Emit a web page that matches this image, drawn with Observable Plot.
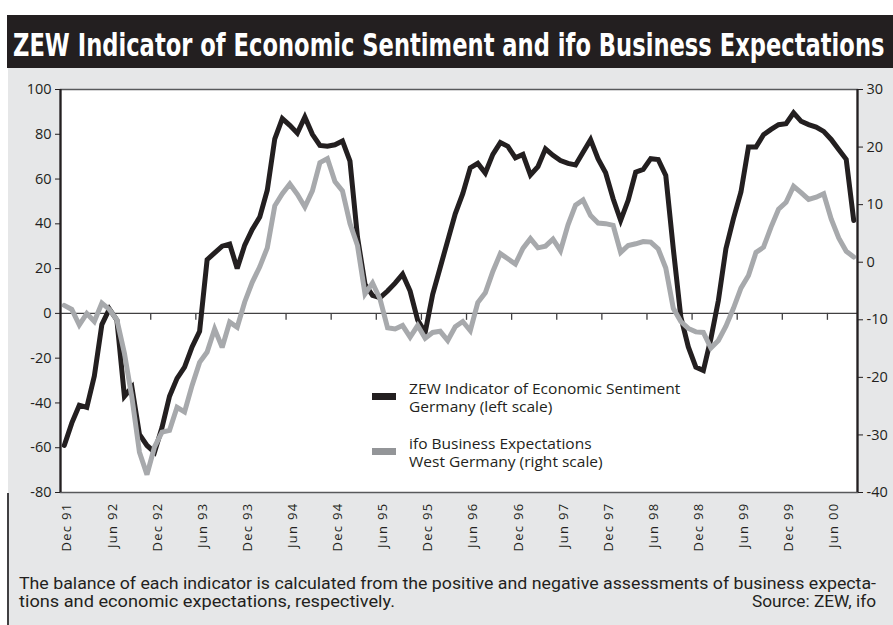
<!DOCTYPE html>
<html>
<head>
<meta charset="utf-8">
<script src="https://cdn.jsdelivr.net/npm/d3@7"></script>
<script src="https://cdn.jsdelivr.net/npm/@observablehq/plot@0.6"></script>
<style>
  body { margin: 0; background: #fff; }
  #wrap { position: relative; width: 893px; height: 625px; overflow: hidden; font-family: "Open Sans", sans-serif; }
  #titlebar { position: absolute; left: 7px; top: 15px; width: 886px; height: 53px; background: #231f20; }
  #panel { position: absolute; left: 8px; top: 68px; width: 885px; height: 557px; background: #e6e7e8; }
  #lborder { position: absolute; left: 7px; top: 493px; width: 1.5px; height: 132px; background: #414042; }
  #chart { position: absolute; left: 0; top: 68px; }
  #overlay { position: absolute; left: 0; top: 0; pointer-events: none; }
</style>
</head>
<body>
<div id="wrap">
  <div id="titlebar"></div>
  <div id="panel"></div>
  <div id="lborder"></div>
  <div id="chart"></div>
  <svg id="overlay" width="893" height="625" xmlns="http://www.w3.org/2000/svg">
    <g id="titleg"><text id="title" x="0" y="56" fill="#ffffff" font-family="DejaVu Sans, sans-serif" font-weight="bold" font-size="32">ZEW Indicator of Economic Sentiment and ifo Business Expectations</text></g>
    <g id="legend" font-family="Open Sans, sans-serif" font-size="14.5" fill="#231f20"></g>
    <g id="caption" font-family="Roboto, sans-serif" font-size="16" fill="#231f20"></g>
  </svg>
</div>
<script>
// ---- data ----
// monthly observations, Dec 1991 .. Sep 2000 (106 months)
const zew = [
  -59, -49, -41, -42, -28, -5, 2, -3, -37, -33,
  -54, -59, -62, -51, -37, -29, -24, -15, -8, 24,
  27, 30, 31, 20, 30.5, 37.5, 43, 55, 78, 87,
  84, 80.5, 87.7, 80, 75, 74.7, 75.3, 77, 68, 34,
  13, 8, 7, 10, 13.5, 17.5, 10, -3, -8.5, 8.5,
  20.5, 32.5, 44.5, 53.5, 65, 67, 62.7, 71, 76.3, 74.6,
  69.5, 71, 61.8, 65.5, 73.5, 70.6, 68.3, 67, 66.3, 72,
  77.6, 69, 62.8, 51.2, 41.5, 50.5, 63.1, 64.3, 69.1, 68.7,
  61.6, 28.9, -1.5, -15, -24, -25.5, -11.3, 5.8, 28.9, 42.3,
  54.2, 74.3, 74.3, 79.8, 82.2, 84.3, 84.7, 89.6, 85.8, 84.3,
  83.2, 81.3, 77.7, 73.2, 68.8, 41.5
];
const ifo = [
  -7.5, -8.2, -10.9, -8.9, -10.3, -7.1, -8.2, -10, -15.8, -23.5,
  -33, -36.9, -32.1, -29.5, -29.2, -25.2, -26, -21.4, -17.4, -15.6,
  -11.6, -14.8, -10.4, -11.3, -6.9, -3.5, -0.8, 2.5, 9.8, 11.9,
  13.6, 11.8, 9.6, 12.4, 17.3, 18, 14, 12.4, 6.7, 2.9,
  -5.5, -3.6, -6.4, -11.4, -11.6, -11, -13, -11, -13.2, -12.2,
  -12, -13.6, -11.2, -10.3, -11.9, -7, -5.3, -1.6, 1.5, 0.6,
  -0.3, 2.4, 4.1, 2.5, 2.8, 4.0, 2.0, 6.5, 9.9, 10.8,
  8.1, 6.8, 6.7, 6.4, 1.7, 2.9, 3.2, 3.6, 3.5, 2.3,
  -1, -8, -10.3, -11.5, -12.1, -12.2, -14.9, -13.6, -11.1, -8,
  -4.5, -2.3, 1.7, 2.6, 6.1, 9.2, 10.4, 13.2, 12.1, 10.9,
  11.3, 11.9, 7.5, 4.2, 1.9, 0.9
];
const tickLabels = ["Dec 91","Jun 92","Dec 92","Jun 93","Dec 93","Jun 94","Dec 94","Jun 95","Dec 95",
                    "Jun 96","Dec 96","Jun 97","Dec 97","Jun 98","Dec 98","Jun 99","Dec 99","Jun 00"];
const leftTicks = [-80, -60, -40, -20, 0, 20, 40, 60, 80, 100];
const rightTicks = [-40, -30, -20, -10, 0, 10, 20, 30];
const leftDomain = [-80, 100];
const rightDomain = [-40, 30];
const legendLabels = [
  ["ZEW Indicator of Economic Sentiment", "Germany (left scale)"],
  ["ifo Business Expectations", "West Germany (right scale)"]
];
const captionLines = [
  "The balance of each indicator is calculated from the positive and negative assessments of business expecta-",
  "tions and economic expectations, respectively."
];
const sourceText = "Source: ZEW, ifo";

// ---- build ----
const BLACK = "#231f20", GREY = "#a7a9ac";
const toLeft = r => leftDomain[0] + (r - rightDomain[0]) * (leftDomain[1] - leftDomain[0]) / (rightDomain[1] - rightDomain[0]);
const fromLeft = v => rightDomain[0] + (v - leftDomain[0]) * (rightDomain[1] - rightDomain[0]) / (leftDomain[1] - leftDomain[0]);
const rows = zew.map((v, i) => ({i, zew: v, ifo: toLeft(ifo[i])}));
const n = zew.length;
const labelIdx = tickLabels.map((_, k) => k * 6);
const sepIdx = d3.range(1, Math.ceil(n / 6)).map(k => k * 6 - 0.5);

const chart = Plot.plot({
  width: 893, height: 557,
  marginLeft: 60, marginRight: 36, marginTop: 21, marginBottom: 133,
  style: {background: "transparent", fontFamily: "Open Sans, sans-serif", fontSize: "14px", color: BLACK, overflow: "visible"},
  x: {domain: [-0.5, n - 0.5], label: null},
  y: {domain: leftDomain, label: null},
  marks: [
    Plot.frame({fill: "white", stroke: "#58595b", strokeWidth: 1.5}),
    Plot.ruleY([0], {stroke: "#414042", strokeWidth: 1.3}),
    Plot.ruleX(sepIdx, {y1: 0, y2: -3.1, stroke: "#414042", strokeWidth: 1.3}),
    Plot.line(rows, {x: "i", y: "zew", stroke: BLACK, strokeWidth: 5, strokeLinejoin: "miter", strokeMiterlimit: 3}),
    Plot.line(rows, {x: "i", y: "ifo", stroke: GREY, strokeWidth: 5, strokeLinejoin: "miter", strokeMiterlimit: 3}),
    Plot.ruleX([-0.5, n - 0.5], {stroke: BLACK, strokeWidth: 2.2}),
    Plot.axisY(leftTicks, {anchor: "left", label: null, tickSize: 5, tickPadding: 4, tickFormat: d => String(d), fontSize: 14.5}),
    Plot.axisY(rightTicks.map(toLeft), {anchor: "right", label: null, tickSize: 5, tickPadding: 4, tickFormat: d => String(Math.round(fromLeft(d))), fontSize: 14.5}),
    Plot.axisX(labelIdx, {anchor: "bottom", label: null, tickSize: 0, tickPadding: 10, tickRotate: -90,
      tickFormat: d => tickLabels[Math.round(d / 6)], fontSize: 13, dx: 3})
  ]
});
chart.querySelectorAll("[aria-label='x-axis tick label'] text").forEach(t => t.setAttribute("letter-spacing", "1.3"));
document.getElementById("chart").appendChild(chart);

// title: condense horizontally to span the bar
const NS = "http://www.w3.org/2000/svg";
const titleEl = document.getElementById("title");
const natural = titleEl.getComputedTextLength();
const sx = 872 / natural;
document.getElementById("titleg").setAttribute("transform", `translate(13,0) scale(${sx},1)`);

// legend
const lg = document.getElementById("legend");
const legendColors = [BLACK, "#939598"];
const legendY = [394, 449];
const legendStretch = 1.07;
legendLabels.forEach((lines, k) => {
  const r = document.createElementNS(NS, "rect");
  r.setAttribute("x", 372); r.setAttribute("y", legendY[k] - 1);
  r.setAttribute("width", 24); r.setAttribute("height", 7);
  r.setAttribute("fill", legendColors[k]);
  lg.appendChild(r);
  lines.forEach((s, j) => {
    const t = document.createElementNS(NS, "text");
    t.setAttribute("x", 409); t.setAttribute("y", legendY[k] + j * 18);
    t.textContent = s;
    lg.appendChild(t);
    const w = t.getComputedTextLength();
    t.setAttribute("textLength", (w * legendStretch).toFixed(1));
    t.setAttribute("lengthAdjust", "spacingAndGlyphs");
  });
});

// caption
const cg = document.getElementById("caption");
const capLens = [857, 376];
captionLines.forEach((s, j) => {
  const t = document.createElementNS(NS, "text");
  t.setAttribute("x", 19); t.setAttribute("y", 589 + j * 18);
  t.setAttribute("textLength", capLens[j]); t.setAttribute("lengthAdjust", "spacingAndGlyphs");
  t.textContent = s;
  cg.appendChild(t);
});
const st = document.createElementNS(NS, "text");
st.setAttribute("x", 876); st.setAttribute("y", 607);
st.setAttribute("text-anchor", "end");
st.setAttribute("textLength", 124); st.setAttribute("lengthAdjust", "spacingAndGlyphs");
st.textContent = sourceText;
cg.appendChild(st);
</script>
</body>
</html>
